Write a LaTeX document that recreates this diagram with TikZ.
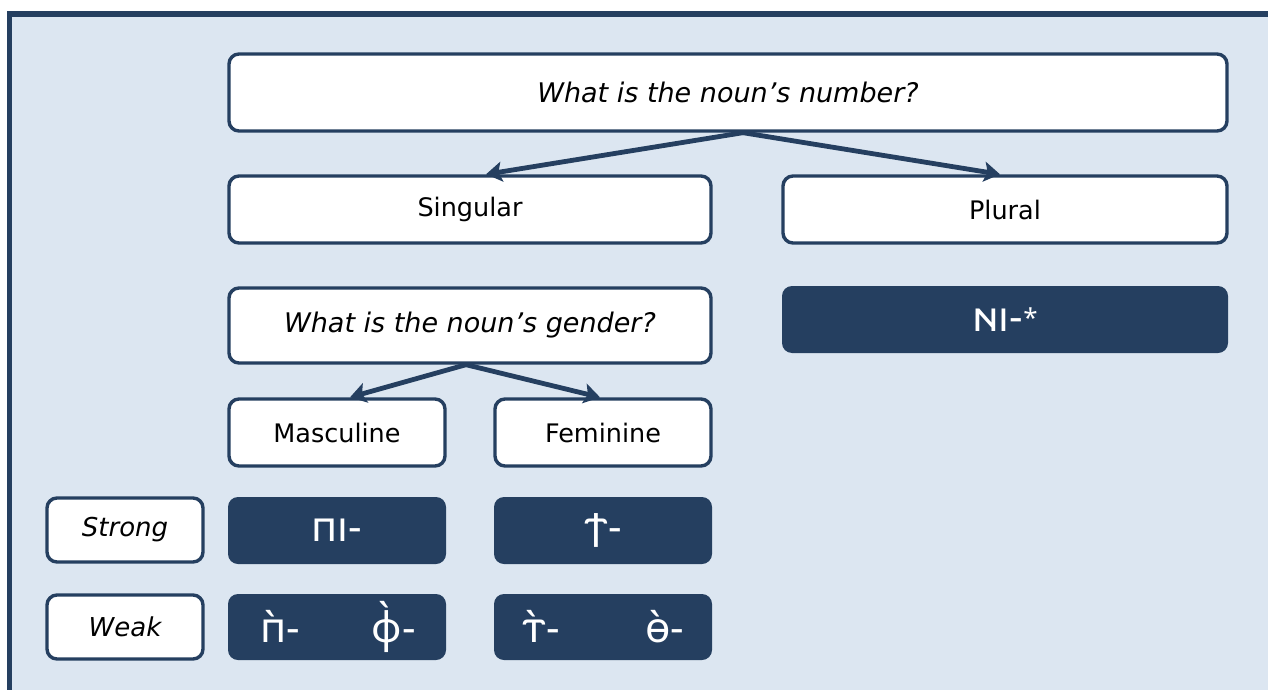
\documentclass[tikz,border=0pt]{standalone}
\usepackage{fontspec}
\setmainfont{DejaVu Sans}
\IfFontExistsTF{Noto Sans Coptic}{\newfontfamily\copt{Noto Sans Coptic}}{\newfontfamily\copt{DejaVu Sans}}
\usetikzlibrary{arrows.meta}
\definecolor{dk}{RGB}{37,63,96}
\definecolor{lt}{RGB}{220,230,241}
\newcommand{\cw}[1]{\makebox[44pt]{#1}}
\tikzset{
  wbox/.style={draw=dk, line width=3.4pt, fill=white, rounded corners=10pt, inner sep=0pt, font=\fontsize{25.5}{30}\selectfont},
  itq/.style={font=\fontsize{27}{32}\selectfont\itshape},
  dbox/.style={fill=dk, rounded corners=10pt, inner sep=0pt, text=white, font=\copt\fontsize{42}{48}\selectfont},
  conn/.style={draw=dk, line width=4.8pt, -{Stealth[length=16pt,width=20pt,inset=3.5pt]}}
}
\begin{document}
\begin{tikzpicture}[x=1pt,y=-1pt]
\useasboundingbox (0,0) rectangle (1268,690);
\clip (0,0) rectangle (1268,690);
\draw[draw=dk, fill=lt, line width=5.5pt] (9.5,14) rectangle (1300,720);
\node[wbox, itq, minimum width=998pt, minimum height=77pt] (top) at (728,92.5) {What is the noun’s number?};
\node[wbox, minimum width=482pt, minimum height=67pt] (sing) at (470,209.5) {Singular};
\node[wbox, minimum width=444pt, minimum height=67pt] (plur) at (1005,209.5) {Plural};
\node[wbox, itq, minimum width=482pt, minimum height=75pt] (gq) at (470,325.5) {What is the noun’s gender?};
\node[dbox, minimum width=446pt, minimum height=67pt] (ni) at (1005,319.5) {ⲛⲓ-{\fontsize{26}{30}\selectfont\raisebox{4pt}{*}}};
\node[wbox, minimum width=216pt, minimum height=67pt] (masc) at (337,432.5) {Masculine};
\node[wbox, minimum width=216pt, minimum height=67pt] (fem) at (603,432.5) {Feminine};
\node[wbox, font=\fontsize{26}{30}\selectfont\itshape, minimum width=156pt, minimum height=64pt] (strong) at (125,530) {Strong};
\node[dbox, minimum width=218pt, minimum height=67pt] (pi) at (337,530.5) {ⲡⲓ-};
\node[dbox, minimum width=218pt, minimum height=67pt] (ti) at (603,530.5) {ϯ-};
\node[wbox, font=\fontsize{26}{30}\selectfont\itshape, minimum width=156pt, minimum height=64pt] (weak) at (125,627) {Weak};
\node[dbox, minimum width=218pt, minimum height=66pt] (wm) at (337,627) {\cw{ⲡ̀-}\hspace{70pt}\cw{ⲫ̀-}};
\node[dbox, minimum width=218pt, minimum height=66pt] (wf) at (603,627) {\cw{ⲧ̀-}\hspace{80pt}\cw{ⲑ̀-}};
\draw[conn] ([xshift=15pt]top.south) -- ([xshift=16pt]sing.north);
\draw[conn] ([xshift=15pt]top.south) -- ([xshift=-5pt]plur.north);
\draw[conn] ([xshift=-4pt]gq.south) -- ([xshift=13pt]masc.north);
\draw[conn] ([xshift=-4pt]gq.south) -- ([xshift=-3pt]fem.north);
\end{tikzpicture}
\end{document}
